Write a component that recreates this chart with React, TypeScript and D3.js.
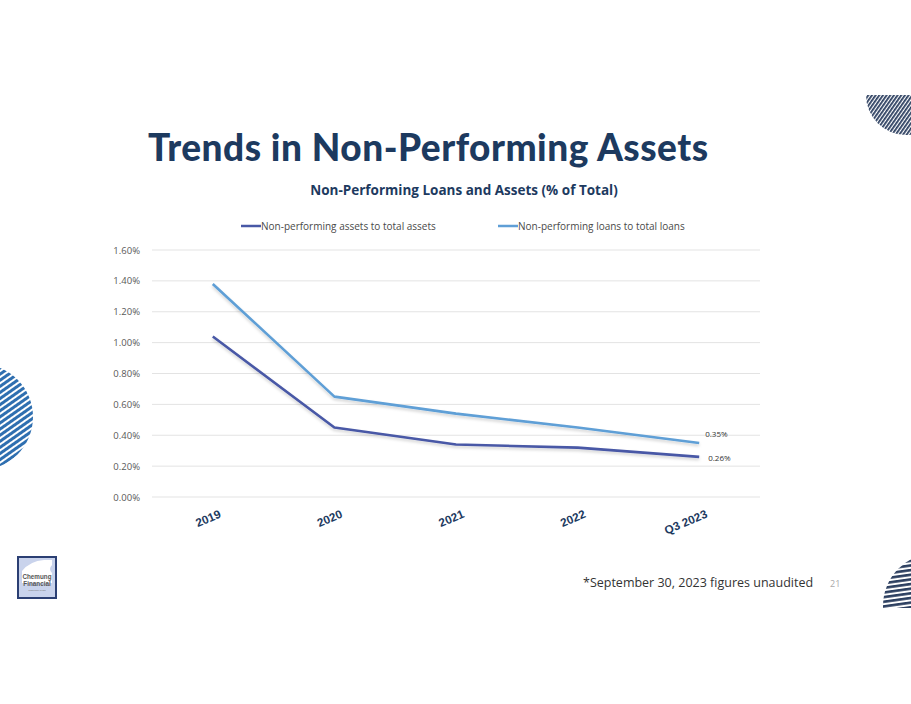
import React, { useEffect, useRef } from 'react';
import * as d3 from 'd3';

const categories = ['2019', '2020', '2021', '2022', 'Q3 2023'];
const assetsPct = [1.04, 0.45, 0.34, 0.32, 0.26];
const loansPct = [1.38, 0.65, 0.54, 0.45, 0.35];
const yTicks = [0, 0.2, 0.4, 0.6, 0.8, 1.0, 1.2, 1.4, 1.6];

const seriesNames = ['Non-performing assets to total assets', 'Non-performing loans to total loans'];
const seriesColors = ['#4858a6', '#5f9fd6'];

const NAVY = '#1d3a5f';

export default function App() {
  const svgRef = useRef<SVGSVGElement>(null);

  useEffect(() => {
    if (!svgRef.current) return;
    const svg = d3.select(svgRef.current);
    svg.selectAll('*').remove();

    const defs = svg.append('defs');

    // stripe patterns for the decorative circles
    const mkPattern = (id: string, size: number, angle: number, color: string, bar: number) => {
      const p = defs.append('pattern')
        .attr('id', id)
        .attr('patternUnits', 'userSpaceOnUse')
        .attr('width', size).attr('height', size)
        .attr('patternTransform', `rotate(${angle})`);
      p.append('rect').attr('width', size).attr('height', size).attr('fill', '#ffffff');
      p.append('rect').attr('width', size).attr('height', bar).attr('fill', color);
    };
    mkPattern('stripeBlue', 5, -35, '#2f6fb0', 3);
    mkPattern('stripeNavy', 3, -55, '#2c3f60', 1.8);
    mkPattern('stripeNavy2', 4.6, -8, '#2c3f60', 2.6);

    const shadow = defs.append('filter').attr('id', 'soft')
      .attr('x', '-5%').attr('y', '-20%').attr('width', '110%').attr('height', '140%');
    shadow.append('feDropShadow')
      .attr('dx', 0).attr('dy', 2).attr('stdDeviation', 1.5)
      .attr('flood-color', '#000').attr('flood-opacity', 0.18);

    // decorations
    svg.append('circle').attr('cx', -20).attr('cy', 417).attr('r', 53).attr('fill', 'url(#stripeBlue)');
    const clipTop = defs.append('clipPath').attr('id', 'clipTop');
    clipTop.append('rect').attr('x', 850).attr('y', 95).attr('width', 70).attr('height', 60);
    svg.append('circle').attr('cx', 906).attr('cy', 95).attr('r', 40)
      .attr('fill', 'url(#stripeNavy)').attr('clip-path', 'url(#clipTop)');
    const clipBot = defs.append('clipPath').attr('id', 'clipBot');
    clipBot.append('rect').attr('x', 850).attr('y', 540).attr('width', 70).attr('height', 68);
    svg.append('circle').attr('cx', 936).attr('cy', 606).attr('r', 53)
      .attr('fill', 'url(#stripeNavy2)').attr('clip-path', 'url(#clipBot)');

    // titles
    svg.append('text').attr('x', 148).attr('y', 161)
      .attr('font-family', 'Lato, sans-serif').attr('font-weight', 900).attr('font-size', 37)
      .attr('letter-spacing', 0.5)
      .attr('fill', NAVY).text('Trends in Non-Performing Assets');

    svg.append('text').attr('x', 464).attr('y', 195).attr('text-anchor', 'middle')
      .attr('font-family', '"Open Sans", sans-serif').attr('font-weight', 700).attr('font-size', 13.5)
      .attr('fill', NAVY).text('Non-Performing Loans and Assets (% of Total)');

    // legend
    const legendX = [241, 498];
    seriesNames.forEach((name, i) => {
      const g = svg.append('g').attr('transform', `translate(${legendX[i]},226)`);
      g.append('line').attr('x1', 0).attr('x2', 20).attr('y1', 0).attr('y2', 0)
        .attr('stroke', seriesColors[i]).attr('stroke-width', 2.5);
      g.append('text').attr('x', 20).attr('y', 3.5)
        .attr('font-family', '"Open Sans", sans-serif').attr('font-size', 10)
        .attr('fill', '#4a4a4a').text(name);
    });

    // plot
    const x = d3.scaleBand<string>().domain(categories).range([152, 760]);
    const y = d3.scaleLinear().domain([0, 1.6]).range([497, 250]);

    svg.append('g').selectAll('line').data(yTicks).enter().append('line')
      .attr('x1', 152).attr('x2', 760)
      .attr('y1', d => y(d)).attr('y2', d => y(d))
      .attr('stroke', '#e3e3e3').attr('stroke-width', 1);

    svg.append('g').selectAll('text').data(yTicks).enter().append('text')
      .attr('x', 140).attr('y', d => y(d) + 3.5).attr('text-anchor', 'end')
      .attr('font-family', '"Open Sans", sans-serif').attr('font-size', 9.5)
      .attr('fill', '#595959').text(d => d.toFixed(2) + '%');

    const cx = (c: string) => (x(c) as number) + x.bandwidth() / 2;

    svg.append('g').selectAll('text').data(categories).enter().append('text')
      .attr('transform', d => `translate(${cx(d) + 9},${517}) rotate(-23)`)
      .attr('text-anchor', 'end')
      .attr('font-family', '"Liberation Sans", Arial, sans-serif').attr('font-weight', 700).attr('font-size', 11.8)
      .attr('fill', NAVY).text(d => d);

    const line = d3.line<number>()
      .x((_, i) => cx(categories[i]))
      .y(d => y(d));

    [assetsPct, loansPct].forEach((vals, i) => {
      svg.append('path').datum(vals)
        .attr('d', line)
        .attr('fill', 'none')
        .attr('stroke', seriesColors[i])
        .attr('stroke-width', 2.6)
        .attr('stroke-linejoin', 'round')
        .attr('filter', 'url(#soft)');
    });

    // end labels
    const last = categories.length - 1;
    const labelOffsets = [[9, 4], [6, -6]];
    [assetsPct, loansPct].forEach((vals, i) => {
      svg.append('text')
        .attr('x', cx(categories[last]) + labelOffsets[i][0])
        .attr('y', y(vals[last]) + labelOffsets[i][1])
        .attr('font-family', '"Open Sans", sans-serif').attr('font-size', 8)
        .attr('fill', '#333').text(vals[last].toFixed(2) + '%');
    });

    // logo
    const logo = svg.append('g').attr('transform', 'translate(18,557)');
    logo.append('rect').attr('x', 0).attr('y', 0).attr('width', 38).attr('height', 41)
      .attr('fill', '#c9d3ec').attr('stroke', '#2b3f73').attr('stroke-width', 2);
    logo.append('path').attr('d', 'M4,26 L4,14 Q12,4 26,3 L34,3 L34,8 Q30,12 34,16 L34,26 Z').attr('fill', '#ffffff');
    logo.append('text').attr('x', 19).attr('y', 22).attr('text-anchor', 'middle')
      .attr('font-family', '"Liberation Sans", sans-serif').attr('font-weight', 700).attr('font-size', 6.3)
      .attr('fill', '#555').text('Chemung');
    logo.append('text').attr('x', 19).attr('y', 29).attr('text-anchor', 'middle')
      .attr('font-family', '"Liberation Sans", sans-serif').attr('font-weight', 700).attr('font-size', 6.3)
      .attr('fill', '#555').text('Financial');
    logo.append('text').attr('x', 19).attr('y', 34).attr('text-anchor', 'middle')
      .attr('font-family', '"Liberation Sans", sans-serif').attr('font-size', 2.4)
      .attr('fill', '#777').text('CORPORATION');

    // footer
    svg.append('text').attr('x', 583).attr('y', 587)
      .attr('font-family', '"Liberation Sans Narrow", "Open Sans", sans-serif').attr('font-size', 12.5)
      .attr('fill', '#333').text('*September 30, 2023 figures unaudited');
    svg.append('text').attr('x', 830).attr('y', 587)
      .attr('font-family', '"Open Sans", sans-serif').attr('font-size', 9)
      .attr('fill', '#aaa').text('21');
  }, []);

  return (
    <svg ref={svgRef} width={911} height={704}
      style={{ position: 'absolute', left: 0, top: 0, background: '#fff', display: 'block' }} />
  );
}
